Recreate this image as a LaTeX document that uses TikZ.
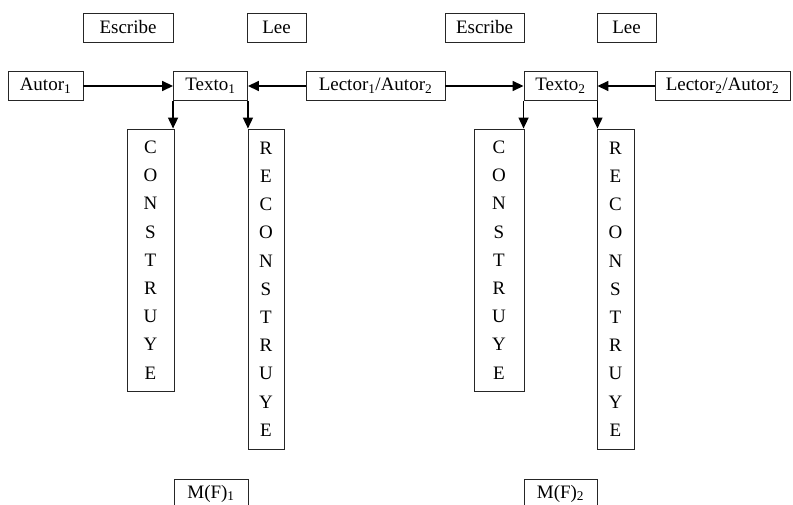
\documentclass[tikz,border=0pt]{standalone}
\usepackage{fontspec}
\setmainfont{Liberation Serif}
\usetikzlibrary{arrows.meta}

\begin{document}
\begin{tikzpicture}[x=1pt,y=-1pt,
        caja/.style={draw=black!85,line width=0.9pt,inner sep=0pt,minimum height=29pt,font=\fontsize{19}{23}\selectfont},
        vert/.style={draw=black!85,line width=0.9pt,inner sep=0pt,align=center,font=\fontsize{19}{28.2}\selectfont},
        flecha/.style={-{Triangle[length=11pt,width=10pt]},line width=1.6pt}]
    \useasboundingbox (0,0) rectangle (793,505);
    % fila superior
    \node[caja,minimum width=90pt] (esc1) at (128,27.5) {Escribe};
    \node[caja,minimum width=59pt] (lee1) at (276.5,27.5) {Lee};
    \node[caja,minimum width=79pt] (esc2) at (484.5,27.5) {Escribe};
    \node[caja,minimum width=59pt] (lee2) at (626.5,27.5) {Lee};
    % fila central
    \node[caja,minimum width=75pt] (autor1) at (45.5,86) {Autor\textsubscript{1}};
    \node[caja,minimum width=74pt] (texto1) at (210.5,86) {Texto\textsubscript{1}};
    \node[caja,minimum width=139pt] (lector1) at (375.5,86) {Lector\textsubscript{1}/Autor\textsubscript{2}};
    \node[caja,minimum width=73pt] (texto2) at (560.5,86) {Texto\textsubscript{2}};
    \node[caja,minimum width=135pt] (lector2) at (722.5,86) {Lector\textsubscript{2}/Autor\textsubscript{2}};
    % columnas verticales
    \node[vert,minimum width=47pt,minimum height=262pt] (cons1) at (150.5,260) {C\\O\\N\\S\\T\\R\\U\\Y\\E};
    \node[vert,minimum width=36pt,minimum height=320pt] (recons1) at (266,289) {R\\E\\C\\O\\N\\S\\T\\R\\U\\Y\\E};
    \node[vert,minimum width=50pt,minimum height=262pt] (cons2) at (499,260) {C\\O\\N\\S\\T\\R\\U\\Y\\E};
    \node[vert,minimum width=37pt,minimum height=320pt] (recons2) at (615.5,289) {R\\E\\C\\O\\N\\S\\T\\R\\U\\Y\\E};
    % fila inferior
    \node[caja,minimum width=74pt] (mf1) at (211,493.5) {M(F)\textsubscript{1}};
    \node[caja,minimum width=73pt] (mf2) at (560.5,493.5) {M(F)\textsubscript{2}};
    % flechas
    \draw[flecha] (autor1) -- (texto1);
    \draw[flecha] (lector1) -- (texto1);
    \draw[flecha] (lector1) -- (texto2);
    \draw[flecha] (lector2) -- (texto2);
    \draw[flecha] (texto1.south west) -- (texto1.south west |- cons1.north);
    \draw[flecha] (texto1.south east) -- (texto1.south east |- recons1.north);
    \draw[flecha] (texto2.south west) -- (texto2.south west |- cons2.north);
    \draw[flecha] (texto2.south east) -- (texto2.south east |- recons2.north);
\end{tikzpicture}
\end{document}
